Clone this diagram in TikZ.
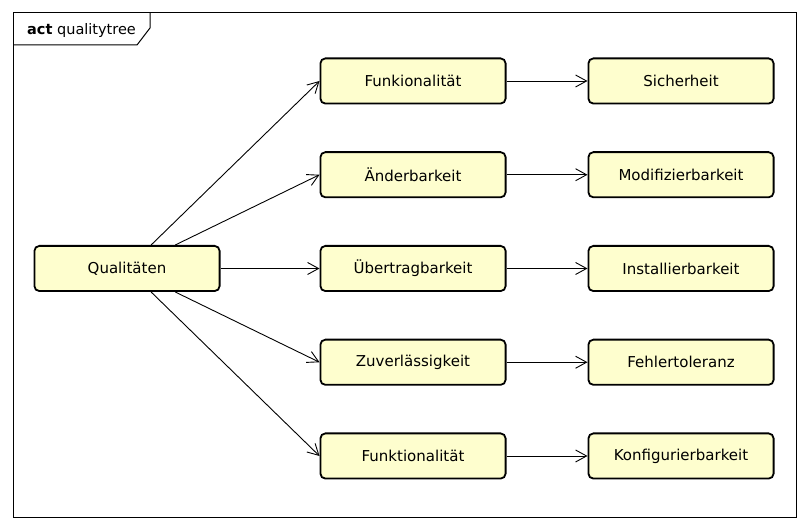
\documentclass[tikz,border=0pt]{standalone}
\usepackage{fontspec}
\setmainfont{DejaVu Sans}
\usetikzlibrary{positioning,arrows.meta}
\definecolor{actfill}{HTML}{FEFECE}

\begin{document}
\begin{tikzpicture}[->,>={Straight Barb[length=11pt,width=12pt]},x=1pt,y=1pt,
  node distance=46.75pt and 99pt,
  act node/.style={rectangle,rounded corners=5pt,fill=actfill,draw,line width=1.8pt,
    minimum width=185.2pt,minimum height=45.2pt,font=\fontsize{15}{18}\selectfont}]

  \useasboundingbox (0,0) rectangle (808,532);

  % frame with its tab
  \draw[-,line width=1pt] (13,14) rectangle (796,519);
  \draw[-,line width=1pt] (150,519) -- (150,504) -- (137,487) -- (13,487);
  \node[anchor=base west,inner sep=0pt,font=\fontsize{14.5}{17}\selectfont] (title) at (27,497) {\textbf{act} qualitytree};

  \node[act node] (quali) at (127,263.5) {Qualitäten};
  \node[act node] (uebertrag) [right=of quali] {Übertragbarkeit};
  \node[act node] (aender) [above=of uebertrag] {Änderbarkeit};
  \node[act node] (funk) [above=of aender] {Funkionalität};
  \node[act node] (zuverl) [below=of uebertrag] {Zuverlässigkeit};
  \node[act node] (funkt) [below=of zuverl] {Funktionalität};

  \node[act node] (sicher) [right=81pt of funk] {Sicherheit};
  \node[act node] (modif) [right=81pt of aender] {Modifizierbarkeit};
  \node[act node] (install) [right=81pt of uebertrag] {Installierbarkeit};
  \node[act node] (fehler) [right=81pt of zuverl] {Fehlertoleranz};
  \node[act node] (konfig) [right=81pt of funkt] {Konfigurierbarkeit};

  \path[line width=0.9pt]
    (quali) edge (funk.west)
            edge (aender.west)
            edge (uebertrag.west)
            edge (zuverl.west)
            edge (funkt.west)
    (funk) edge (sicher)
    (aender) edge (modif)
    (uebertrag) edge (install)
    (zuverl) edge (fehler)
    (funkt) edge (konfig);
\end{tikzpicture}
\end{document}
